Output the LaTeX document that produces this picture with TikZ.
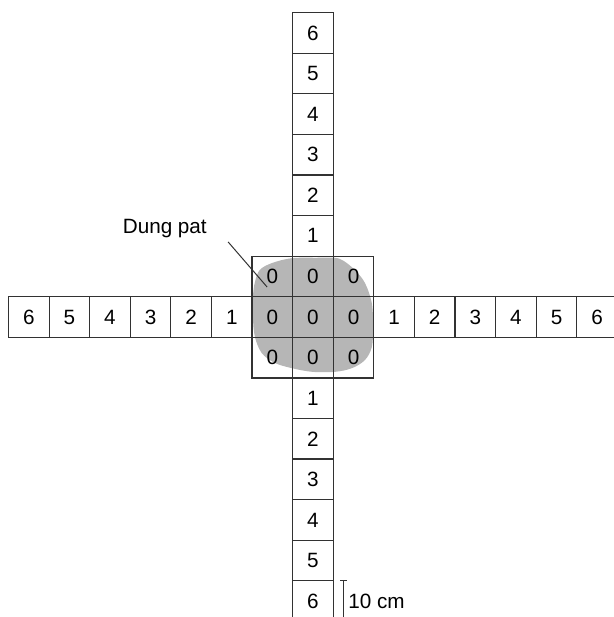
\documentclass[tikz,border=0pt]{standalone}
\usepackage{fontspec}
\setmainfont{Liberation Sans}
\usetikzlibrary{positioning}
\definecolor{gridline}{RGB}{50,50,50}
\definecolor{patgray}{RGB}{182,182,182}

\begin{document}
\begin{tikzpicture}[
  cell/.style={rectangle, draw=gridline, line width=0.85pt, minimum size=1cm,
    inner sep=0pt, font=\fontsize{14.5}{17}\selectfont},
  lbl/.style={font=\fontsize{14.5}{17}\selectfont, inner sep=1pt},
  lead/.style={draw=gridline, line width=0.7pt}]
\clip (-7.71,-7.39) rectangle (7.41,7.81);
% dung pat under the quadrat
\fill[patgray] plot[smooth cycle, tension=0.55] coordinates {
  (-1.48,0.49) (-1.43,0.86) (-1.31,1.16) (-1.01,1.33) (-0.52,1.45)
  (0.10,1.46) (0.54,1.46) (0.76,1.38) (1.03,1.16) (1.28,0.84)
  (1.45,0.34) (1.48,-0.25) (1.45,-0.74) (1.28,-1.06) (0.96,-1.26)
  (0.54,-1.35) (-0.02,-1.35) (-0.52,-1.26) (-0.94,-1.13) (-1.26,-0.89)
  (-1.43,-0.49) (-1.48,0)};
% central 3x3 quadrat
\foreach \x in {-1,0,1}
  \foreach \y in {-1,0,1}
    \node[cell] (c\x\y) at (\x,\y) {0};
% four transects
\foreach \i in {1,...,6} {
  \node[cell] (n\i) at (0,\i+1) {\i};
  \node[cell] (s\i) at (0,-\i-1) {\i};
  \node[cell] (w\i) at (-\i-1,0) {\i};
  \node[cell] (e\i) at (\i+1,0) {\i};
}
% label
\node[lbl] (dung) at (-3.65,2.19) {Dung pat};
\coordinate (tail) at (-2.09,1.85);
\coordinate (pat) at (-1.13,0.74);
\draw[lead] (tail) -- (pat);
% scale bar
\coordinate (bartop) at (0.75,-6.5);
\coordinate (barbot) at (0.75,-7.5);
\draw[lead] (bartop) -- (barbot);
\draw[lead] ([xshift=-0.08cm]bartop) -- ([xshift=0.08cm]bartop);
\draw[lead] ([xshift=-0.08cm]barbot) -- ([xshift=0.08cm]barbot);
\node[lbl, anchor=west] (bar) at (0.83,-7.01) {10 cm};
\end{tikzpicture}
\end{document}
